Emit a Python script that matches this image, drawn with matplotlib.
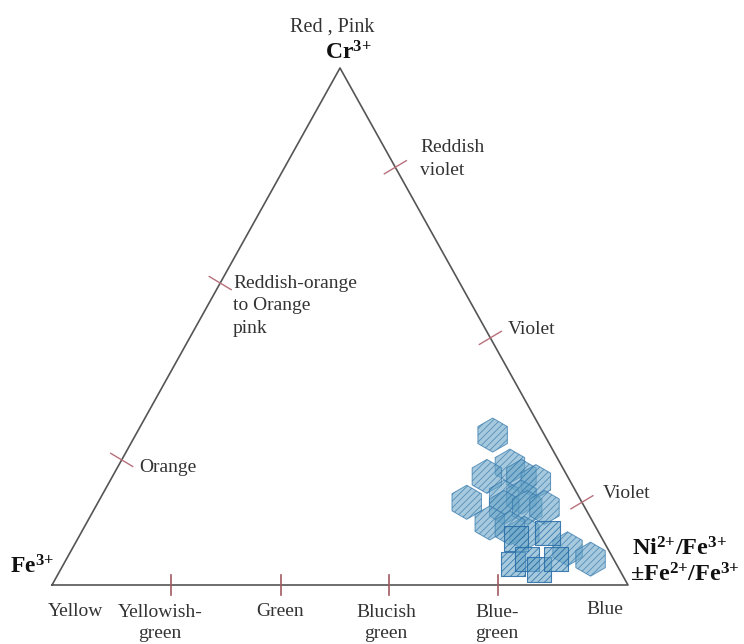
import numpy as np
import matplotlib
matplotlib.use("Agg")
import matplotlib.pyplot as plt

plt.rcParams['font.family'] = ['Liberation Serif', 'DejaVu Serif']
plt.rcParams['mathtext.fontset'] = 'custom'
plt.rcParams['mathtext.rm'] = 'Liberation Serif'
plt.rcParams['mathtext.bf'] = 'Liberation Serif:bold'
plt.rcParams['hatch.linewidth'] = 0.6

# compositions as fractions: Cr3+ (top) and Ni2+/Fe3+ (right); Fe3+ = rest
hex_cr = [0.29, 0.23, 0.21, 0.21, 0.20, 0.16, 0.17, 0.17, 0.15, 0.15, 0.15, 0.12, 0.10, 0.07, 0.05, 0.11]
hex_ni = [0.62, 0.68, 0.65, 0.71, 0.74, 0.64, 0.70, 0.73, 0.71, 0.75, 0.78, 0.70, 0.77, 0.86, 0.91, 0.74]
sq_cr = [0.10, 0.09, 0.04, 0.05, 0.03, 0.05]
sq_ni = [0.81, 0.76, 0.78, 0.80, 0.83, 0.85]

# colour-field markers along the edges (Cr fraction / base position)
left_marks = [0.242, 0.584]         # Fe3+ - Cr3+ edge
right_marks = [0.808, 0.478, 0.16]  # Cr3+ - Ni edge
base_marks = [0.207, 0.398, 0.585, 0.774]

H = np.sqrt(3) / 2


def tern(cr, ni):
    cr = np.asarray(cr)
    ni = np.asarray(ni)
    return ni + cr / 2, cr * H


fig = plt.figure(figsize=(7.44, 6.44), dpi=100)
ax = fig.add_axes([0, 0, 1, 1])
# map triangle onto pixel frame (base 52..628 px, y 585..68 px)
sx, sy = 576.0, 597.0
ax.set_xlim(-52 / sx, (744 - 52) / sx)
ax.set_ylim((585 - 644) / sy, 585 / sy)
ax.axis('off')

ax.plot([0, 1, 0.5, 0], [0, 0, H, 0], color='#555555', lw=1.2, zorder=1)

tick_col = '#b8707a'
d = 0.022
for c in left_marks:
    x, y = c / 2, c * H
    nx, ny = -H, 0.5
    ax.plot([x - d * nx, x + d * nx], [y - d * ny, y + d * ny], color=tick_col, lw=1.0)
for c in right_marks:
    x, y = 1 - c / 2, c * H
    nx, ny = H, 0.5
    ax.plot([x - d * nx, x + d * nx], [y - d * ny, y + d * ny], color=tick_col, lw=1.0)
for b in base_marks:
    ax.plot([b, b], [-0.016, 0.016], color='#a05a60', lw=1.2)

hx, hy = tern(hex_cr, hex_ni)
ax.scatter(hx, hy, marker='h', s=24.5 ** 2, facecolor=(0.42, 0.65, 0.78, 0.6),
           edgecolor=(0.22, 0.48, 0.68, 0.75), linewidths=0.7, hatch='/////', zorder=3)
qx, qy = tern(sq_cr, sq_ni)
ax.scatter(qx, qy, marker='s', s=17.5 ** 2, facecolor=(0.42, 0.65, 0.78, 0.6),
           edgecolor=(0.15, 0.42, 0.65, 0.85), linewidths=0.8, hatch='/////', zorder=4)


def ft(px, py, s, **kw):
    kw.setdefault('fontsize', 14)
    kw.setdefault('color', '#333333')
    fig.text(px / 744, 1 - py / 644, s, va='center', **kw)


ft(332, 27, 'Red , Pink', ha='center', fontsize=14.5)
ft(325, 53, r'$\mathbf{Cr^{3{+}}}$', ha='left', fontsize=17, color='#111111')
ft(10, 567, r'$\mathbf{Fe^{3{+}}}$', ha='left', fontsize=17, color='#111111')
ft(632, 549, r'$\mathbf{Ni^{2{+}}/Fe^{3{+}}}$', ha='left', fontsize=17.5, color='#111111')
ft(630, 575, r'$\mathbf{\pm Fe^{2{+}}/Fe^{3{+}}}$', ha='left', fontsize=17.5, color='#111111')

ft(420, 159, 'Reddish\nviolet', ha='left', linespacing=1.4)
ft(233, 306, 'Reddish-orange\nto Orange\npink', ha='left', linespacing=1.4)
ft(139, 468, 'Orange', ha='left')
ft(508, 330, 'Violet', ha='left')
ft(603, 494, 'Violet', ha='left')

ft(75, 612, 'Yellow', ha='center')
ft(160, 623, 'Yellowish-\ngreen', ha='center', linespacing=1.35)
ft(280, 612, 'Green', ha='center')
ft(386, 623, 'Blucish\ngreen', ha='center', linespacing=1.35)
ft(497, 623, 'Blue-\ngreen', ha='center', linespacing=1.35)
ft(605, 609, 'Blue', ha='center')

fig.savefig('out.png', dpi=100)
